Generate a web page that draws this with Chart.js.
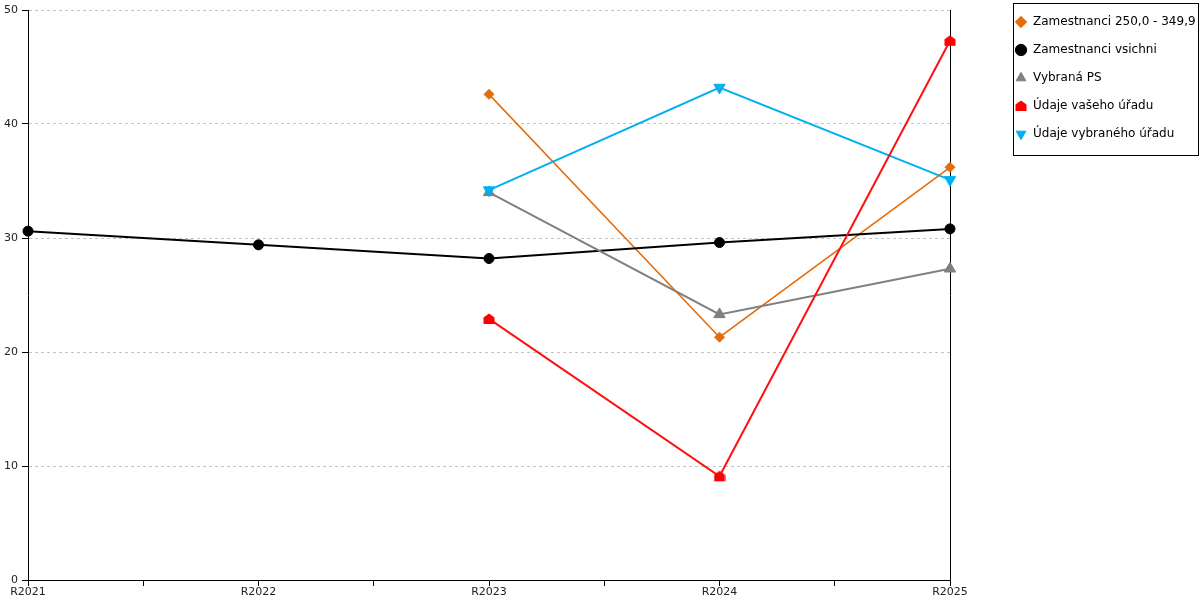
<!DOCTYPE html>
<html>
<head>
<meta charset="utf-8">
<script src="https://cdn.jsdelivr.net/npm/chart.js@4"></script>
<style>
    html, body { margin: 0; padding: 0; background: #fff; }
    #wrap { width: 1200px; height: 600px; }
</style>
</head>
<body>
<div id="wrap"><canvas id="trend_view"></canvas></div>
<script>
const categories = ['R2021', 'R2022', 'R2023', 'R2024', 'R2025'];

const series_names = [
    'Zamestnanci 250,0 - 349,9',
    'Zamestnanci vsichni',
    'Vybraná PS',
    'Údaje vašeho úřadu',
    'Údaje vybraného úřadu'
];

const zam_250 = [null, null, 42.6, 21.3, 36.2];
const zam_all = [30.6, 29.4, 28.2, 29.6, 30.8];
const vybrana_ps = [null, null, 34.0, 23.3, 27.3];
const vas_urad = [null, null, 22.9, 9.1, 47.3];
const vybrany_urad = [null, null, 34.2, 43.2, 35.1];

const y_ticks = [0, 10, 20, 30, 40, 50];

// pentagon ("house") marker used for the own office series
function house_marker(color) {
    const c = document.createElement('canvas');
    c.width = 12;
    c.height = 12;
    const ctx = c.getContext('2d');
    ctx.fillStyle = color;
    ctx.beginPath();
    ctx.moveTo(6, 0.5);
    ctx.lineTo(11.5, 4.5);
    ctx.lineTo(11.5, 11);
    ctx.lineTo(0.5, 11);
    ctx.lineTo(0.5, 4.5);
    ctx.closePath();
    ctx.fill();
    return c;
}

function to_points(values) {
    return values.map((v, i) => ({x: i, y: v}));
}

function make_dataset(label, values, color, style, radius, width, order, rotation) {
    return {
        label: label,
        data: to_points(values),
        borderColor: color,
        backgroundColor: color,
        borderWidth: width,
        pointStyle: style,
        pointRadius: radius,
        pointRotation: rotation || 0,
        pointBackgroundColor: color,
        pointBorderColor: color,
        pointBorderWidth: 1,
        tension: 0,
        fill: false,
        clip: false,
        order: order
    };
}

// frame around the legend like in the original export
const legend_frame = {
    id: 'legend_frame',
    afterDraw(chart) {
        const boxes = chart.legend && chart.legend.legendHitBoxes;
        if (!boxes || !boxes.length) {
            return;
        }
        const first = boxes[0];
        const last = boxes[boxes.length - 1];
        const ctx = chart.ctx;
        const left = Math.round(first.left - 2) + 0.5;
        const top = Math.round(first.top - 13) + 0.5;
        const right = chart.width - 1.5;
        const bottom = Math.round(last.top + last.height + 15) + 0.5;
        ctx.save();
        ctx.strokeStyle = '#000';
        ctx.lineWidth = 1;
        ctx.strokeRect(left, top, right - left, bottom - top);
        ctx.restore();
    }
};

Chart.defaults.font.family = '"DejaVu Sans", Verdana, sans-serif';
Chart.defaults.font.size = 11;
Chart.defaults.color = '#222';

const trend_canvas = document.getElementById('trend_view');

const trend_handler = new Chart(trend_canvas, {
    type: 'line',
    data: {
        datasets: [
            make_dataset(series_names[0], zam_250, '#E46C0A', 'rectRot', 5, 1.5, 4),
            make_dataset(series_names[1], zam_all, '#000000', 'circle', 5, 2, 3),
            make_dataset(series_names[2], vybrana_ps, '#808080', 'triangle', 6.5, 2, 2),
            make_dataset(series_names[3], vas_urad, '#FF1010', house_marker('#FF0000'), 5, 2, 0),
            make_dataset(series_names[4], vybrany_urad, '#00B0F0', 'triangle', 6.5, 2, 1, 180)
        ]
    },
    options: {
        responsive: true,
        maintainAspectRatio: false,
        animation: false,
        layout: {
            padding: 0
        },
        scales: {
            x: {
                type: 'linear',
                min: 0,
                max: categories.length - 1,
                offset: false,
                grid: {
                    drawOnChartArea: false,
                    drawTicks: true,
                    tickLength: 6,
                    color: '#000'
                },
                border: {
                    display: true,
                    color: '#000',
                    width: 1
                },
                ticks: {
                    stepSize: 0.5,
                    autoSkip: false,
                    maxRotation: 0,
                    padding: 0,
                    callback: (value) => Number.isInteger(value) ? categories[value] : ''
                },
                afterBuildTicks: (scale) => {
                    const ticks = [];
                    for (let v = 0; v <= categories.length - 1; v += 0.5) {
                        ticks.push({value: v});
                    }
                    scale.ticks = ticks;
                },
                afterFit: (scale) => {
                    scale.height = 20;
                }
            },
            y: {
                min: y_ticks[0],
                max: y_ticks[y_ticks.length - 1],
                afterBuildTicks: (scale) => {
                    scale.ticks = y_ticks.map(v => ({value: v}));
                },
                afterFit: (scale) => {
                    scale.width = 28;
                    scale.paddingTop = 10;
                    scale.paddingBottom = 0;
                },
                grid: {
                    color: '#c4c4c4',
                    lineWidth: 1,
                    tickColor: '#000',
                    tickLength: 6
                },
                border: {
                    display: true,
                    color: '#000',
                    width: 1,
                    dash: [3, 3]
                },
                ticks: {
                    padding: 4
                }
            },
            y_right: {
                position: 'right',
                min: y_ticks[0],
                max: y_ticks[y_ticks.length - 1],
                grid: {
                    display: false
                },
                ticks: {
                    display: false
                },
                border: {
                    display: true,
                    color: '#000',
                    width: 1
                },
                afterFit: (scale) => {
                    scale.width = 49;
                }
            }
        },
        plugins: {
            legend: {
                position: 'right',
                align: 'start',
                maxWidth: 201,
                labels: {
                    usePointStyle: true,
                    boxWidth: 12,
                    boxHeight: 8,
                    padding: 16,
                    color: '#000',
                    font: {
                        size: 12
                    },
                    sort: (a, b) => a.datasetIndex - b.datasetIndex
                }
            },
            tooltip: {
                enabled: false
            }
        }
    },
    plugins: [legend_frame]
});
</script>
</body>
</html>
